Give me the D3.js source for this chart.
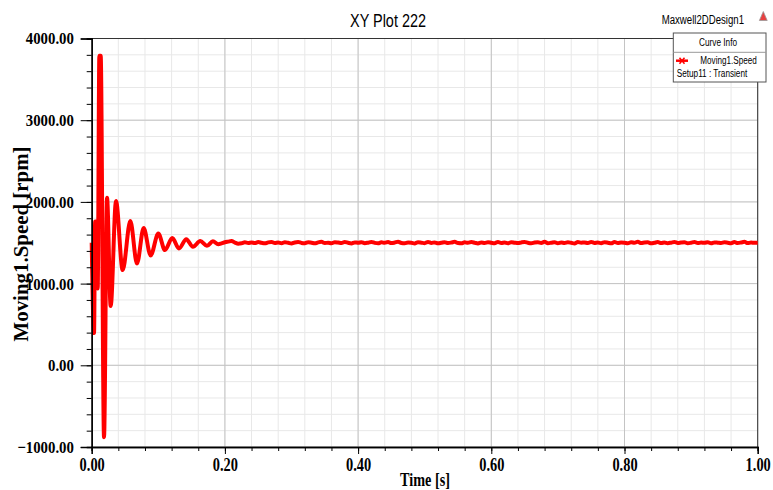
<!DOCTYPE html>
<html>
<head>
<meta charset="utf-8">
<script src="https://cdn.jsdelivr.net/npm/d3@7"></script>
<style>
  body { margin: 0; background: #fff; }
  svg { display: block; }
</style>
</head>
<body>
<svg width="773" height="490"></svg>
<script>
// start-up transient, read peak by peak
const timeEarly = [0, 0.0035, 0.0052, 0.0075, 0.009, 0.0115, 0.0135, 0.0185, 0.023, 0.0285,
  0.0365, 0.0465, 0.058, 0.068, 0.078, 0.0885, 0.1, 0.11, 0.121, 0.131, 0.142, 0.152, 0.163, 0.173, 0.182];
const speedEarly = [1500, 395, 1760, 1760, 940, 3790, 3790, -880, 2050, 725,
  2010, 1165, 1765, 1245, 1680, 1345, 1612, 1410, 1558, 1430, 1542, 1450, 1520, 1462, 1518];

// steady state ripple, every 5 ms from 0.19 s
const tailStart = 0.19;
const tailStep = 0.005;
const speedTail = [
  1482, 1492, 1506, 1514, 1521, 1502, 1489, 1494, 1505, 1498,
  1503, 1496, 1508, 1499, 1493, 1505, 1510, 1497, 1502, 1494,
  1506, 1500, 1491, 1504, 1509, 1498, 1495, 1507, 1501, 1493,
  1505, 1511, 1497, 1500, 1494, 1506, 1502, 1496, 1509, 1499,
  1492, 1504, 1500, 1507, 1495, 1501, 1510, 1498, 1493, 1505,
  1499, 1508, 1496, 1502, 1512, 1497, 1494, 1503, 1500, 1491,
  1506, 1501, 1495, 1509, 1498, 1504, 1493, 1500, 1507, 1497,
  1502, 1511, 1496, 1494, 1505, 1499, 1508, 1501, 1492, 1503,
  1498, 1506, 1500, 1495, 1510, 1497, 1503, 1494, 1507, 1501,
  1496, 1504, 1509, 1499, 1493, 1502, 1506, 1498, 1511, 1495,
  1500, 1507, 1494, 1503, 1497, 1505, 1499, 1492, 1508, 1501,
  1504, 1496, 1510, 1498, 1502, 1495, 1506, 1500, 1493, 1509,
  1497, 1503, 1501, 1494, 1507, 1499, 1512, 1496, 1502, 1505,
  1493, 1500, 1508, 1497, 1504, 1495, 1501, 1509, 1498, 1503,
  1506, 1494, 1500, 1510, 1496, 1502, 1499, 1507, 1493, 1504,
  1501, 1497, 1505, 1500, 1495, 1508, 1498, 1503, 1511, 1496,
  1502, 1499, 1500
];

const yTicks = [-1000, 0, 1000, 2000, 3000, 4000];
const xTicks = [0, 0.2, 0.4, 0.6, 0.8, 1.0];

const data = timeEarly.map((t, i) => ({t: t, v: speedEarly[i]}))
  .concat(speedTail.map((v, i) => ({t: tailStart + i * tailStep, v: v})));

const svg = d3.select("svg");
svg.append("rect").attr("width", 773).attr("height", 490).attr("fill", "#fff");

const plotL = 91.7, plotR = 757.7, plotT = 38.5, plotB = 447;
const x = d3.scaleLinear().domain([0, 1]).range([plotL, plotR]);
const y = d3.scaleLinear().domain([-1000, 4000]).range([plotB, plotT]);

const xMinor = d3.range(0, 1.0001, 0.04);
const yMinor = d3.range(-1000, 4000.1, 200);

// grid
const grid = svg.append("g");
grid.selectAll(".gxm").data(xMinor).enter().append("line")
  .attr("x1", d => x(d)).attr("x2", d => x(d)).attr("y1", plotT).attr("y2", plotB)
  .attr("stroke", "#e8e8e8").attr("stroke-width", 1);
grid.selectAll(".gym").data(yMinor).enter().append("line")
  .attr("y1", d => y(d)).attr("y2", d => y(d)).attr("x1", plotL).attr("x2", plotR)
  .attr("stroke", "#e8e8e8").attr("stroke-width", 1);
grid.selectAll(".gx").data(xTicks).enter().append("line")
  .attr("x1", d => x(d)).attr("x2", d => x(d)).attr("y1", plotT).attr("y2", plotB)
  .attr("stroke", "#c4c4c4").attr("stroke-width", 1);
grid.selectAll(".gy").data(yTicks).enter().append("line")
  .attr("y1", d => y(d)).attr("y2", d => y(d)).attr("x1", plotL).attr("x2", plotR)
  .attr("stroke", "#c4c4c4").attr("stroke-width", 1);

// frame top/right
svg.append("line").attr("x1", plotL).attr("x2", plotR).attr("y1", plotT).attr("y2", plotT)
  .attr("stroke", "#333").attr("stroke-width", 1);
svg.append("line").attr("x1", plotR).attr("x2", plotR).attr("y1", plotT).attr("y2", plotB)
  .attr("stroke", "#333").attr("stroke-width", 1);

// curve
const line = d3.line().x(d => x(d.t)).y(d => y(d.v)).curve(d3.curveMonotoneX);
svg.append("path").datum(data)
  .attr("d", line)
  .attr("fill", "none")
  .attr("stroke", "#ff0000")
  .attr("stroke-width", 4)
  .attr("stroke-linejoin", "round");

// axes
const yMinorAxis = svg.append("g").attr("transform", `translate(${plotL},0)`)
  .call(d3.axisLeft(y).tickValues(yMinor).tickSize(5).tickFormat(""));
const yAxis = svg.append("g").attr("transform", `translate(${plotL},0)`)
  .call(d3.axisLeft(y).tickValues(yTicks).tickSize(11).tickFormat(d3.format(".2f")));
const xMinorAxis = svg.append("g").attr("transform", `translate(0,${plotB})`)
  .call(d3.axisBottom(x).tickValues(xMinor).tickSize(4).tickFormat(""));
const xAxis = svg.append("g").attr("transform", `translate(0,${plotB})`)
  .call(d3.axisBottom(x).tickValues(xTicks).tickSize(7).tickFormat(d3.format(".2f")));

[yMinorAxis, yAxis, xMinorAxis, xAxis].forEach(a => {
  a.select(".domain").attr("stroke", "#000").attr("stroke-width", 1.3);
  a.selectAll(".tick line").attr("stroke", "#000");
});

yAxis.selectAll(".tick text")
  .attr("font-family", "Liberation Serif, Times New Roman, serif")
  .attr("font-weight", "bold").attr("font-size", 17).attr("fill", "#000")
  .attr("x", -20.5).attr("transform", "scale(0.87,1)");
xAxis.selectAll(".tick text")
  .attr("font-family", "Liberation Serif, Times New Roman, serif")
  .attr("font-weight", "bold").attr("font-size", 18).attr("fill", "#000")
  .attr("y", 11).attr("dy", "0.71em").attr("x", 0)
  .attr("text-anchor", "middle").attr("transform", "scale(0.8,1)");

// axis titles
svg.append("text")
  .attr("transform", "translate(425,486)")
  .attr("text-anchor", "middle")
  .attr("font-family", "Liberation Serif, Times New Roman, serif")
  .attr("font-weight", "bold").attr("font-size", 18)
  .attr("textLength", 50).attr("lengthAdjust", "spacingAndGlyphs")
  .text("Time [s]");

svg.append("text")
  .attr("transform", "translate(28,244) rotate(-90)")
  .attr("text-anchor", "middle")
  .attr("font-family", "Liberation Serif, Times New Roman, serif")
  .attr("font-weight", "bold").attr("font-size", 20)
  .attr("textLength", 195).attr("lengthAdjust", "spacingAndGlyphs")
  .text("Moving1.Speed [rpm]");

// title and design name
svg.append("text")
  .attr("x", 350).attr("y", 26.5)
  .attr("font-family", "Liberation Sans, Arial, sans-serif").attr("font-size", 19)
  .attr("textLength", 76).attr("lengthAdjust", "spacingAndGlyphs")
  .text("XY Plot 222");

svg.append("text")
  .attr("x", 661.7).attr("y", 24)
  .attr("font-family", "Liberation Sans, Arial, sans-serif").attr("font-size", 12.5)
  .attr("textLength", 82.3).attr("lengthAdjust", "spacingAndGlyphs")
  .text("Maxwell2DDesign1");

svg.append("path")
  .attr("d", "M763.3,11.5 L767.2,20.5 L759.4,20.5 Z")
  .attr("fill", "#e84040").attr("stroke", "#999").attr("stroke-width", 0.8);

// legend
const lg = svg.append("g");
lg.append("rect").attr("x", 673.3).attr("y", 33).attr("width", 92.7).attr("height", 49)
  .attr("fill", "#fff").attr("stroke", "#555").attr("stroke-width", 1);
lg.append("line").attr("x1", 673.3).attr("x2", 766).attr("y1", 52.3).attr("y2", 52.3)
  .attr("stroke", "#999").attr("stroke-width", 1);
lg.append("text").attr("x", 699).attr("y", 46.3)
  .attr("font-family", "Liberation Sans, Arial, sans-serif").attr("font-size", 10)
  .attr("textLength", 38).attr("lengthAdjust", "spacingAndGlyphs")
  .text("Curve Info");
lg.append("line").attr("x1", 676).attr("x2", 688).attr("y1", 60.7).attr("y2", 60.7)
  .attr("stroke", "#ff0000").attr("stroke-width", 2.5);
lg.append("path").attr("d", "M679.5,57.7 L684.5,63.7 M679.5,63.7 L684.5,57.7")
  .attr("stroke", "#ff0000").attr("stroke-width", 1.5);
lg.append("text").attr("x", 700.3).attr("y", 64)
  .attr("font-family", "Liberation Sans, Arial, sans-serif").attr("font-size", 10)
  .attr("textLength", 56.4).attr("lengthAdjust", "spacingAndGlyphs")
  .text("Moving1.Speed");
lg.append("text").attr("x", 676.7).attr("y", 77.3)
  .attr("font-family", "Liberation Sans, Arial, sans-serif").attr("font-size", 10)
  .attr("textLength", 70.6).attr("lengthAdjust", "spacingAndGlyphs")
  .text("Setup11 : Transient");
</script>
</body>
</html>
